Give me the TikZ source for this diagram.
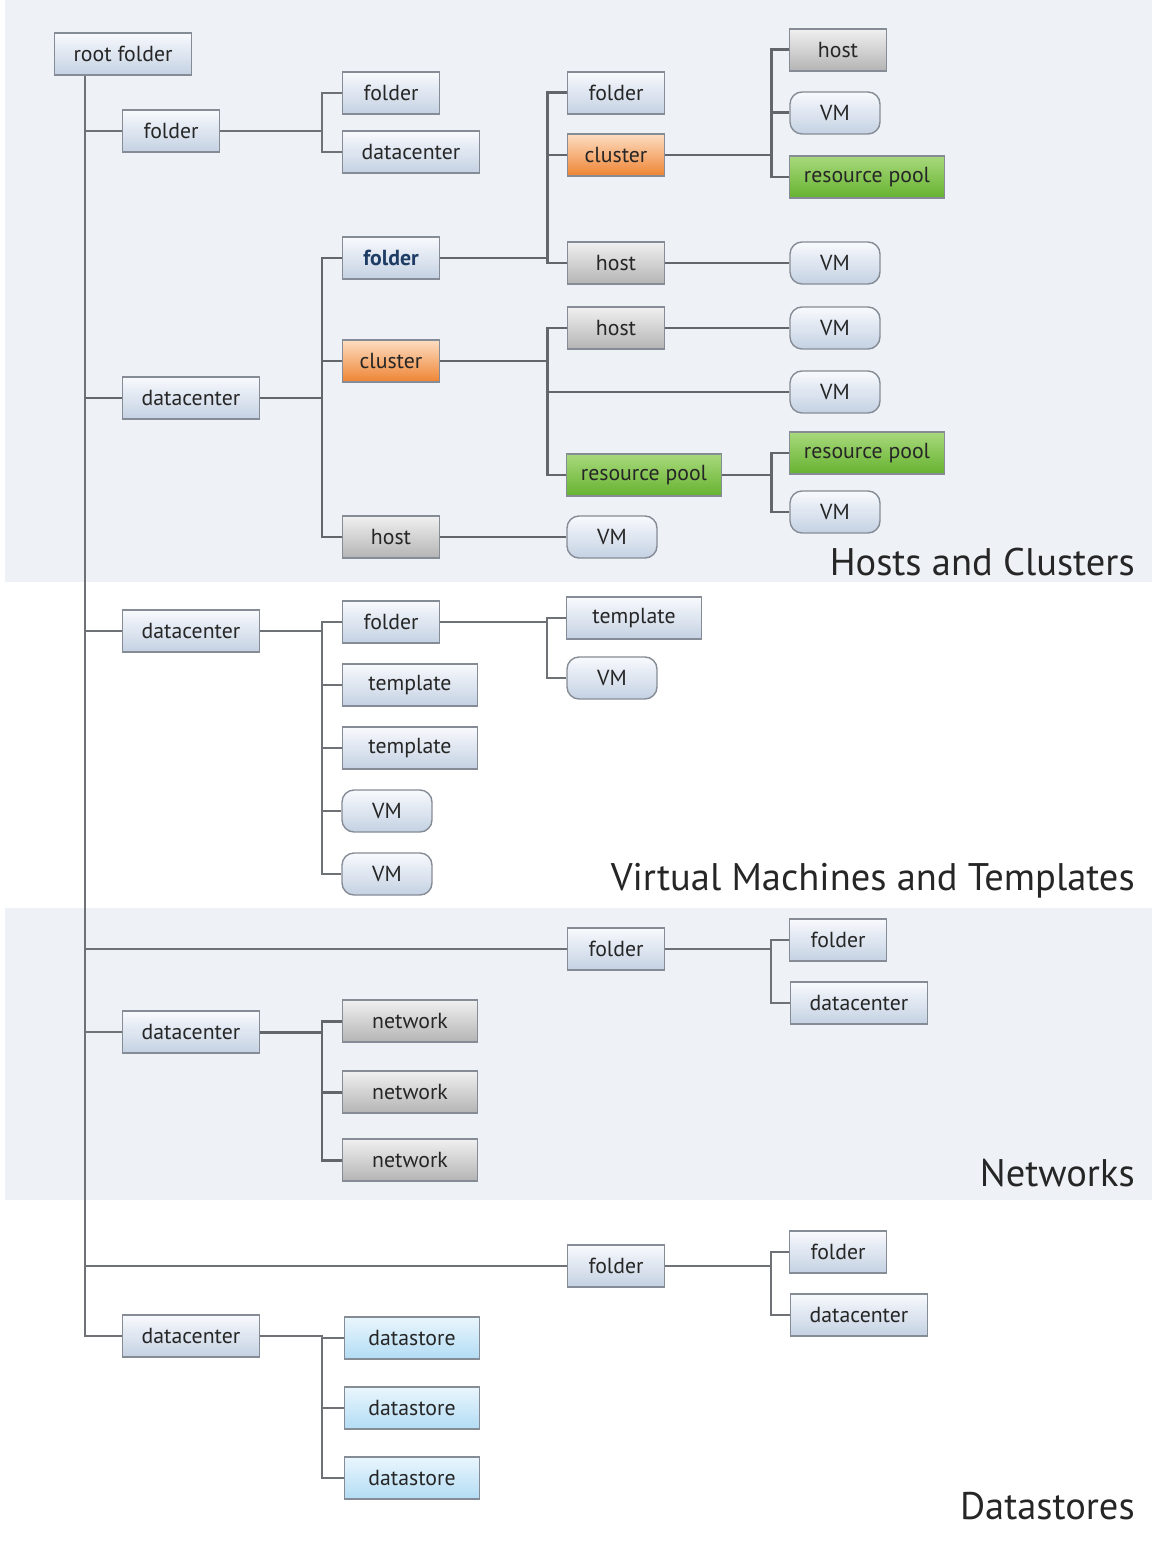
\documentclass[tikz,border=0pt]{standalone}
\usepackage{fontspec}
\setmainfont{PT Sans}
\usepackage{xcolor}
\usepackage{tikz}
\usetikzlibrary{positioning,calc}
\definecolor{bandbg}{HTML}{EEF1F6}
\definecolor{edgegray}{HTML}{6E7277}
\definecolor{boxline}{HTML}{868C95}
\definecolor{nodetext}{HTML}{262626}
\definecolor{blueTop}{HTML}{F8FAFD}
\definecolor{blueBot}{HTML}{C4D1E3}
\definecolor{grayTop}{HTML}{F0F0F0}
\definecolor{grayBot}{HTML}{B4B4B4}
\definecolor{orangeTop}{HTML}{FDDDC2}
\definecolor{orangeBot}{HTML}{EE8433}
\definecolor{greenTop}{HTML}{A8D97C}
\definecolor{greenBot}{HTML}{66B230}
\definecolor{storeTop}{HTML}{EAF6FD}
\definecolor{storeBot}{HTML}{B2DCF4}
\definecolor{selText}{HTML}{1E3C64}
\newcommand{\labelfont}{\fontsize{12.4}{14}\selectfont}
\newcommand{\titlefont}{\fontsize{21.9}{26}\selectfont}

\begin{document}
\begin{tikzpicture}[
  x=0.02cm, y=-0.02cm,
  box/.style={rectangle, draw=boxline, line width=0.8pt, top color=blueTop, bottom color=blueBot, minimum width=1.94cm, minimum height=0.84cm, inner sep=0pt, font=\labelfont, text=nodetext},
  widebox/.style={box, minimum width=2.74cm},
  hostbox/.style={box, top color=grayTop, bottom color=grayBot},
  netbox/.style={hostbox, minimum width=2.7cm},
  clusterbox/.style={box, top color=orangeTop, bottom color=orangeBot},
  poolbox/.style={box, top color=greenTop, bottom color=greenBot, minimum width=3.1cm},
  storebox/.style={box, top color=storeTop, bottom color=storeBot, minimum width=2.7cm},
  tmplbox/.style={box, minimum width=2.7cm},
  vmbox/.style={box, rounded corners=0.24cm, minimum width=1.8cm},
  title/.style={anchor=base east, font=\titlefont, text=black!85, inner sep=0pt},
  link/.style={draw=edgegray, line width=0.8pt},
  trunkline/.style={draw=edgegray, line width=1.1pt},
  heavy/.style={draw=edgegray!90!black, line width=1.7pt}
]
  \useasboundingbox (0,0) rectangle (1152,1550);
  % section bands
  \fill[bandbg] (5,0) rectangle (1152,582);
  \fill[bandbg] (5,908) rectangle (1152,1200);

  % bus columns
  \coordinate (trunk) at (85,0);
  \coordinate (colA) at (322,0);
  \coordinate (colB) at (547,0);
  \coordinate (colC) at (771,0);

  \node[widebox] (root) at (123,54) {root folder};
  \node[box] (fldA) at (171,131) {folder};
  \node[box] (fldA1) at (391,93) {folder};
  \node[widebox] (dcA1) at (411,152) {datacenter};

  % Hosts and Clusters
  \node[widebox] (dcHost) at (191,398) {datacenter};
  \node[box, text=selText, font=\labelfont\bfseries] (hcFolder) at (391,258) {folder};
  \node[clusterbox] (hcCluster) at (391,361) {cluster};
  \node[hostbox] (hcHost) at (391,537) {host};
  \node[box] (hcFolder1) at (616,93) {folder};
  \node[clusterbox] (hcCluster1) at (616,155) {cluster};
  \node[hostbox] (hcHost1) at (616,263) {host};
  \node[hostbox] (hcHost2) at (616,328) {host};
  \node[poolbox] (hcPool) at (644,475) {resource pool};
  \node[vmbox] (hcVm) at (612,537) {VM};
  \node[hostbox] (clHost) at (838,50) {host};
  \node[vmbox] (clVm) at (835,113) {VM};
  \node[poolbox] (clPool) at (867,177) {resource pool};
  \node[vmbox] (hVm1) at (835,263) {VM};
  \node[vmbox] (hVm2) at (835,328) {VM};
  \node[vmbox] (cVm) at (835,392) {VM};
  \node[poolbox] (rpPool) at (867,453) {resource pool};
  \node[vmbox] (rpVm) at (835,512) {VM};
  \node[title] (hcTitle) at (1135,575) {Hosts and Clusters};

  % Virtual Machines and Templates
  \node[widebox] (dcVm) at (191,631) {datacenter};
  \node[box] (vtFolder) at (391,622) {folder};
  \node[tmplbox] (vtTmpl1) at (410,685) {template};
  \node[tmplbox] (vtTmpl2) at (410,748) {template};
  \node[vmbox] (vtVm1) at (387,811) {VM};
  \node[vmbox] (vtVm2) at (387,874) {VM};
  \node[tmplbox] (vtTmpl3) at (634,618) {template};
  \node[vmbox] (vtVm3) at (612,678) {VM};
  \node[title] (vtTitle) at (1135,890) {Virtual Machines and Templates};

  % Networks
  \node[box] (nwFolder) at (616,949) {folder};
  \node[box] (nwFolder1) at (838,940) {folder};
  \node[widebox] (nwDc1) at (859,1003) {datacenter};
  \node[widebox] (dcNet) at (191,1032) {datacenter};
  \node[netbox] (net1) at (410,1021) {network};
  \node[netbox] (net2) at (410,1092) {network};
  \node[netbox] (net3) at (410,1160) {network};
  \node[title] (nwTitle) at (1135,1186) {Networks};

  % Datastores
  \node[box] (dsFolder) at (616,1266) {folder};
  \node[box] (dsFolder1) at (838,1252) {folder};
  \node[widebox] (dsDc1) at (859,1315) {datacenter};
  \node[widebox] (dcStore) at (191,1336) {datacenter};
  \node[storebox] (ds1) at (412,1338) {datastore};
  \node[storebox] (ds2) at (412,1408) {datastore};
  \node[storebox] (ds3) at (412,1478) {datastore};
  \node[title] (dsTitle) at (1135,1519) {Datastores};

  % trunk from root folder
  \draw[trunkline] (root.south -| trunk) |- (dcStore.west);
  \draw[trunkline] (fldA.west -| trunk) -- (fldA.west);
  \draw[heavy] (dcHost.west -| trunk) -- (dcHost.west);
  \draw[trunkline] (dcVm.west -| trunk) -- (dcVm.west);
  \draw[trunkline] (nwFolder.west -| trunk) -- (nwFolder.west);
  \draw[trunkline] (dcNet.west -| trunk) -- (dcNet.west);
  \draw[trunkline] (dsFolder.west -| trunk) -- (dsFolder.west);

  \draw[link] (fldA.east) -| (fldA1.west -| colA) -- (fldA1.west);
  \draw[link] (fldA.east) -| (dcA1.west -| colA) -- (dcA1.west);

  \draw[heavy] (dcHost.east) -| (hcFolder.west -| colA) -- (hcFolder.west);
  \draw[heavy] (dcHost.east) -| (hcCluster.west -| colA) -- (hcCluster.west);
  \draw[heavy] (dcHost.east) -| (hcHost.west -| colA) -- (hcHost.west);
  \draw[heavy] (hcFolder.east) -| (hcFolder1.west -| colB) -- (hcFolder1.west);
  \draw[heavy] (hcFolder.east) -| (hcCluster1.west -| colB) -- (hcCluster1.west);
  \draw[heavy] (hcFolder.east) -| (hcHost1.west -| colB) -- (hcHost1.west);
  \draw[heavy] (hcCluster1.east) -| (clHost.west -| colC) -- (clHost.west);
  \draw[heavy] (hcCluster1.east) -| (clVm.west -| colC) -- (clVm.west);
  \draw[heavy] (hcCluster1.east) -| (clPool.west -| colC) -- (clPool.west);
  \draw[heavy] (hcHost1.east) -- (hVm1.west);
  \draw[heavy] (hcCluster.east) -| (hcHost2.west -| colB) -- (hcHost2.west);
  \draw[heavy] (hcCluster.east) -| (cVm.west -| colB) -- (cVm.west);
  \draw[heavy] (hcCluster.east) -| (hcPool.west -| colB) -- (hcPool.west);
  \draw[heavy] (hcHost2.east) -- (hVm2.west);
  \draw[heavy] (hcPool.east) -| (rpPool.west -| colC) -- (rpPool.west);
  \draw[heavy] (hcPool.east) -| (rpVm.west -| colC) -- (rpVm.west);
  \draw[heavy] (hcHost.east) -- (hcVm.west);

  \draw[link] (dcVm.east) -| (vtFolder.west -| colA) -- (vtFolder.west);
  \draw[link] (dcVm.east) -| (vtTmpl1.west -| colA) -- (vtTmpl1.west);
  \draw[link] (dcVm.east) -| (vtTmpl2.west -| colA) -- (vtTmpl2.west);
  \draw[link] (dcVm.east) -| (vtVm1.west -| colA) -- (vtVm1.west);
  \draw[link] (dcVm.east) -| (vtVm2.west -| colA) -- (vtVm2.west);
  \draw[link] (vtFolder.east) -| (vtTmpl3.west -| colB) -- (vtTmpl3.west);
  \draw[link] (vtFolder.east) -| (vtVm3.west -| colB) -- (vtVm3.west);

  \draw[link] (nwFolder.east) -| (nwFolder1.west -| colC) -- (nwFolder1.west);
  \draw[link] (nwFolder.east) -| (nwDc1.west -| colC) -- (nwDc1.west);
  \draw[heavy] (dcNet.east) -| (net1.west -| colA) -- (net1.west);
  \draw[heavy] (dcNet.east) -| (net2.west -| colA) -- (net2.west);
  \draw[heavy] (dcNet.east) -| (net3.west -| colA) -- (net3.west);

  \draw[link] (dsFolder.east) -| (dsFolder1.west -| colC) -- (dsFolder1.west);
  \draw[link] (dsFolder.east) -| (dsDc1.west -| colC) -- (dsDc1.west);
  \draw[link] (dcStore.east) -| (ds1.west -| colA) -- (ds1.west);
  \draw[link] (dcStore.east) -| (ds2.west -| colA) -- (ds2.west);
  \draw[link] (dcStore.east) -| (ds3.west -| colA) -- (ds3.west);
\end{tikzpicture}
\end{document}
